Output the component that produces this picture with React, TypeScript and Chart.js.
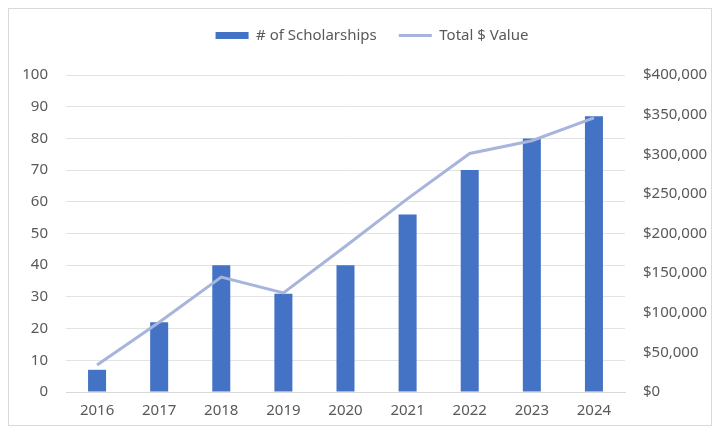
import React, { useEffect, useRef } from "react";
import { Chart, registerables } from "chart.js";

Chart.register(...registerables);

const years = ["2016", "2017", "2018", "2019", "2020", "2021", "2022", "2023", "2024"];
const scholarships = [7, 22, 40, 31, 40, 56, 70, 80, 87];
const totalValue = [34000, 88000, 145000, 125000, 184000, 244000, 301000, 317000, 346000];
const barLabel = "# of Scholarships";
const lineLabel = "Total $ Value";

const FONT = "'Noto Sans', 'Liberation Sans', sans-serif";
const TEXT = "#595959";

const legendSpacer = {
  id: "legendSpacer",
  beforeInit(chart: any) {
    const lg = chart.legend;
    if (!lg) return;
    const orig = lg.fit;
    lg.fit = function () {
      orig.call(this);
      this.height += 19;
    };
  },
  afterLayout(chart: any) {
    const lg = chart.legend;
    if (!lg) return;
    lg.top -= 3;
    lg.left += 24;
  },
};

export default function App() {
  const ref = useRef<HTMLCanvasElement>(null);
  useEffect(() => {
    if (!ref.current) return;
    const chart = new Chart(ref.current, {
      type: "bar",
      data: {
        labels: years,
        datasets: [
          {
            type: "bar",
            label: barLabel,
            data: scholarships,
            backgroundColor: "#4472C4",
            borderWidth: 0,
            barPercentage: 0.29,
            categoryPercentage: 1,
            yAxisID: "y",
            order: 1,
            pointStyle: "rect",
          } as any,
          {
            type: "line",
            label: lineLabel,
            data: totalValue,
            borderColor: "#A7B5DC",
            backgroundColor: "#A7B5DC",
            borderWidth: 3,
            pointRadius: 0,
            tension: 0,
            yAxisID: "y1",
            order: 0,
            pointStyle: "line",
          } as any,
        ],
      },
      options: {
        animation: false,
        responsive: false,
        layout: { padding: { top: 0, left: 0, right: 0, bottom: 0 } },
        plugins: {
          tooltip: { enabled: false },
          legend: {
            position: "top",
            labels: {
              usePointStyle: true,
              pointStyleWidth: 33,
              boxHeight: 7,
              padding: 22,
              color: TEXT,
              font: { family: FONT, size: 15 },
              sort: (a: any, b: any) => a.datasetIndex - b.datasetIndex,
            },
          },
        },
        scales: {
          x: {
            grid: { display: false, drawTicks: false },
            border: { display: true, color: "#d9d9d9" },
            ticks: { color: TEXT, font: { family: FONT, size: 15 }, padding: 10 },
            afterFit: (s: any) => {
              s.height = 33;
            },
          },
          y: {
            position: "left",
            min: 0,
            max: 100,
            ticks: { stepSize: 10, color: TEXT, font: { family: FONT, size: 15 }, padding: 18 },
            grid: { color: "#e3e3e3", drawTicks: false },
            border: { display: false },
            afterFit: (s: any) => {
              s.width = 57;
            },
          },
          y1: {
            position: "right",
            min: 0,
            max: 400000,
            ticks: {
              stepSize: 50000,
              color: TEXT,
              font: { family: FONT, size: 15 },
              padding: 18,
              callback: (v: any) => "$" + Number(v).toLocaleString("en-US"),
            },
            grid: { display: false, drawTicks: false },
            border: { display: false },
            afterFit: (s: any) => {
              s.width = 86;
            },
          },
        },
      },
      plugins: [legendSpacer],
    } as any);
    return () => chart.destroy();
  }, []);
  return (
    <div style={{ width: 702, height: 416, border: "1px solid #d9d9d9" }}>
      <canvas ref={ref} width={702} height={416} style={{ display: "block" }} />
    </div>
  );
}
